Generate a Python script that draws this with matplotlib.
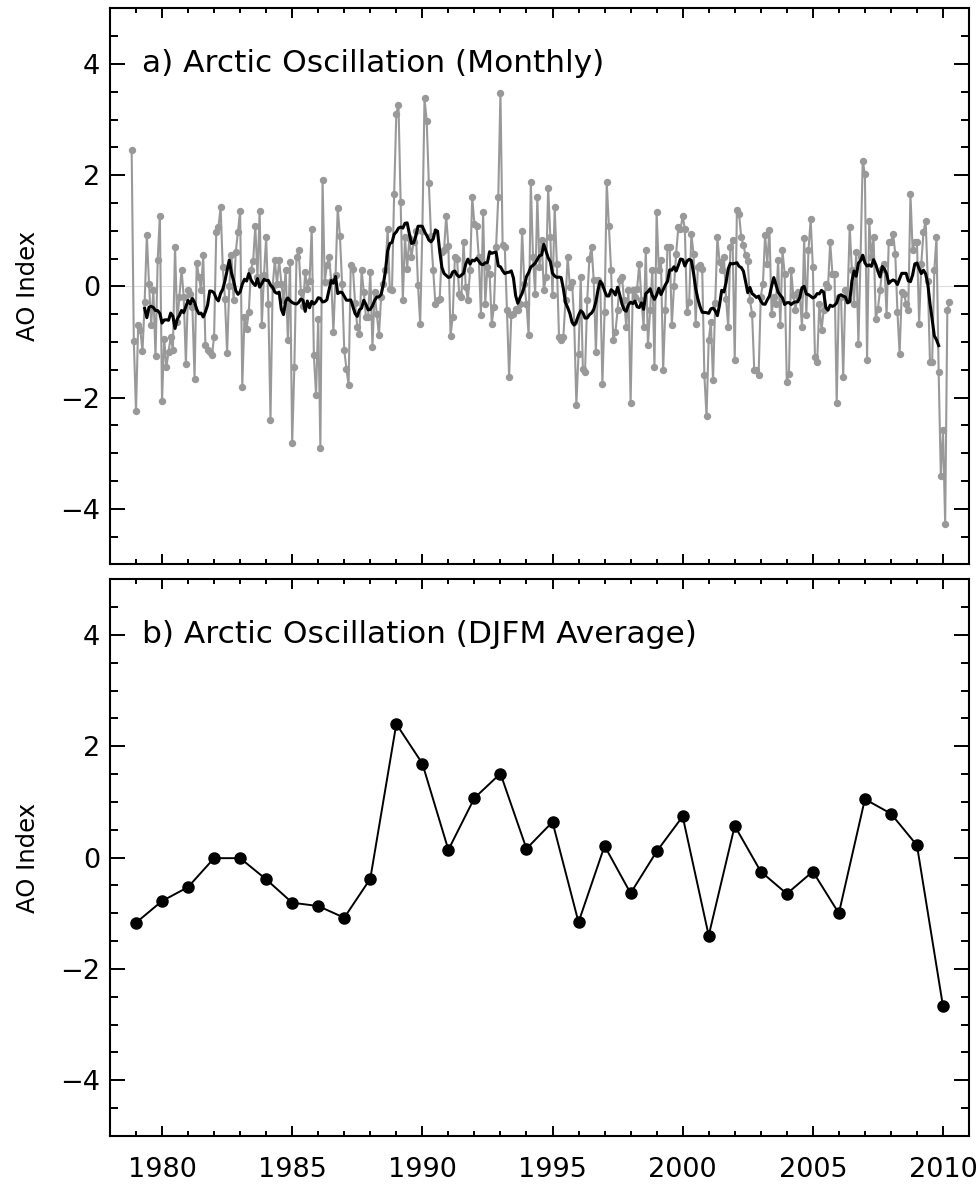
import numpy as np
import pandas as pd
import matplotlib
matplotlib.use("Agg")
import matplotlib.pyplot as plt
from matplotlib.ticker import MultipleLocator

# monthly AO index (series starts Nov 1978)
start_year = 1978
start_month = 11
ao_1978_79 = [2.45, -0.99,
              -2.25, -0.70, -0.79, -1.17, -0.28, 0.92, 0.05, -0.70, -0.07, -1.26, 0.47, 1.27]
ao_1980s = [
    -2.07, -0.94, -1.45, -1.18, -0.91, -1.15, 0.71, -0.64, -0.19, 0.30, -0.19, -1.39,
    -0.07, -0.13, -0.37, -1.66, 0.42, 0.17, -0.07, 0.56, -1.06, -1.15, -1.18, -1.24,
    -0.91, 0.98, 1.06, 1.42, 0.35, -0.22, -1.20, 0.00, 0.56, -0.25, 0.62, 0.98,
    1.36, -1.81, -0.55, -0.76, -0.46, 0.30, 0.45, 1.09, 0.17, 1.36, -0.70, 0.20,
    0.88, -0.31, -2.40, 0.00, 0.47, 0.05, 0.47, 0.05, -0.25, 0.30, -0.97, 0.44,
    -2.82, -1.45, 0.53, 0.65, -0.10, -0.35, 0.25, -0.05, 0.10, 1.03, -1.24, -1.96,
    -0.58, -2.91, 1.91, 0.08, 0.38, 0.53, 0.10, -0.82, 0.20, 1.41, 0.91, 0.05,
    -1.15, -1.48, -1.78, 0.38, 0.32, -0.30, -0.73, -0.85, 0.29, -0.10, -0.55, -0.55,
    0.26, -1.09, -0.10, -0.49, -0.88, -0.19, 0.05, 0.29, 1.03, -0.04, -0.07, 1.66,
    3.10, 3.26, 1.51, -0.25, 0.88, 0.32, 0.86, 0.53, 0.80, 1.00, 0.02, -0.67]
ao_1990s = [
    1.00, 3.38, 2.98, 1.85, 0.91, 0.29, -0.31, -0.25, -0.22, 0.62, 0.65, 1.27,
    0.72, -0.89, -0.55, 0.53, 0.49, -0.14, -0.19, 0.80, -0.01, -0.25, 0.29, 1.60,
    1.12, 1.09, 0.53, -0.52, 1.33, -0.31, 0.35, 0.23, -0.67, -0.37, 0.71, 1.61,
    3.48, 0.75, 0.70, -0.43, -1.63, -0.52, -0.49, -0.40, -0.43, -0.31, 1.00, 0.05,
    -0.31, -0.88, 1.87, 0.53, -0.13, 1.60, 0.35, 0.83, -0.07, 0.17, 1.77, 0.89,
    -0.16, 1.42, 0.41, -0.91, -0.97, -0.91, -0.25, 0.53, -0.01, 0.08, -0.64, -2.13,
    -1.21, 0.17, -1.48, -1.54, -0.25, 0.50, 0.71, 0.11, -1.18, 0.11, 0.05, -1.75,
    -0.46, 1.87, 1.09, 0.29, -0.97, -0.82, -0.43, 0.11, 0.17, -0.25, -0.73, -0.07,
    -2.09, -0.07, -0.19, -0.04, 0.41, -0.25, -0.73, 0.65, -1.06, -0.43, 0.29, -1.45,
    1.33, 0.29, 0.47, -1.51, -0.43, 0.71, 0.71, -0.70, 0.00, 0.59, 1.06, 1.03]
ao_2000s = [
    1.26, 1.03, -0.46, -0.28, 0.94, 0.59, -0.67, 0.35, 0.38, 0.32, -1.60, -2.34,
    -0.97, -0.64, -1.69, -0.30, 0.88, 0.44, 0.30, 0.53, -0.22, -0.73, 0.71, 0.83,
    -1.33, 1.38, 1.30, 0.88, 0.74, 0.56, 0.45, -0.25, -0.49, -1.51, -1.51, -1.60,
    -0.19, 0.05, 0.93, 0.41, 1.02, -0.49, -0.19, -0.31, 0.47, -0.70, 0.65, 0.23,
    -1.72, -1.57, 0.29, -0.16, -0.43, -0.10, -0.16, -0.73, 0.86, -0.52, 0.65, 1.21,
    0.35, -1.27, -1.36, -0.31, -0.79, -0.43, 0.05, -0.01, 0.80, 0.23, 0.23, -2.10,
    -0.19, -0.19, -1.63, -0.07, -0.25, 1.06, 0.29, -0.31, 0.62, -1.03, 0.53, 2.26,
    2.02, -1.33, 1.18, 0.53, 0.88, -0.58, -0.40, -0.07, 0.32, 0.41, -0.52, 0.80,
    0.80, 0.94, 0.59, -0.46, -1.21, -0.10, -0.13, -0.31, -0.43, 1.66, 0.65, 0.80,
    0.80, -0.67, 0.41, 0.97, 1.18, 0.10, -1.36, -1.36, 0.29, 0.88, -1.54, -3.41]
ao_2010 = [-2.59, -4.27, -0.43, -0.29]

# DJFM averages
djfm_years = list(range(1979, 2011))
djfm_ao = [-1.17, -0.78, -0.53, -0.01, -0.01, -0.39, -0.81, -0.87, -1.08, -0.38,
           2.40, 1.69, 0.14, 1.07, 1.51, 0.16, 0.64, -1.16, 0.21, -0.64,
           0.11, 0.74, -1.40, 0.57, -0.25, -0.65, -0.25, -1.00, 1.05, 0.79,
           0.22, -2.67]

monthly = pd.Series(ao_1978_79 + ao_1980s + ao_1990s + ao_2000s + ao_2010)
t = start_year + (start_month - 1) / 12 + np.arange(len(monthly)) / 12
smooth = monthly.rolling(12, center=True).mean()

plt.rcParams['font.family'] = ['DejaVu Sans']
fig = plt.figure(figsize=(9.8, 11.87), dpi=100)
ax1 = fig.add_axes([0.1122, 0.5246, 0.8766, 0.4684])
ax2 = fig.add_axes([0.1122, 0.0430, 0.8766, 0.4690])


def style(ax):
    ax.set_xlim(1978, 2011)
    ax.set_ylim(-5, 5)
    ax.xaxis.set_major_locator(MultipleLocator(5))
    ax.xaxis.set_minor_locator(MultipleLocator(1))
    ax.yaxis.set_major_locator(MultipleLocator(2))
    ax.yaxis.set_minor_locator(MultipleLocator(0.5))
    ax.tick_params(axis='both', which='both', direction='in', top=True, right=True,
                   width=1.4, labelsize=19.5, colors='black')
    ax.tick_params(axis='y', which='major', length=11, pad=7)
    ax.tick_params(axis='y', which='minor', length=5.5)
    ax.tick_params(axis='x', which='major', length=7, pad=15)
    ax.tick_params(axis='x', which='minor', length=3.5)
    for s in ax.spines.values():
        s.set_linewidth(1.5)
    ax.set_ylabel('AO Index', fontsize=17.5)
    ax.yaxis.set_label_coords(-0.082, 0.5)


style(ax1)
ax1.axhline(0, color='#dddddd', lw=0.8, zorder=0)
ax1.plot(t, monthly, color='#999999', lw=1.5, marker='o', ms=4.3, zorder=2)
ax1.plot(t, smooth, color='black', lw=2.2, zorder=3)
ax1.tick_params(axis='x', labelbottom=False)
ax1.text(1979.25, 4, 'a) Arctic Oscillation (Monthly)', fontsize=22.5, va='center')

style(ax2)
ax2.plot(djfm_years, djfm_ao, color='black', lw=1.4, marker='o', ms=8)
ax2.text(1979.25, 4, 'b) Arctic Oscillation (DJFM Average)', fontsize=22.5, va='center')

fig.savefig('out.png', dpi=100)
